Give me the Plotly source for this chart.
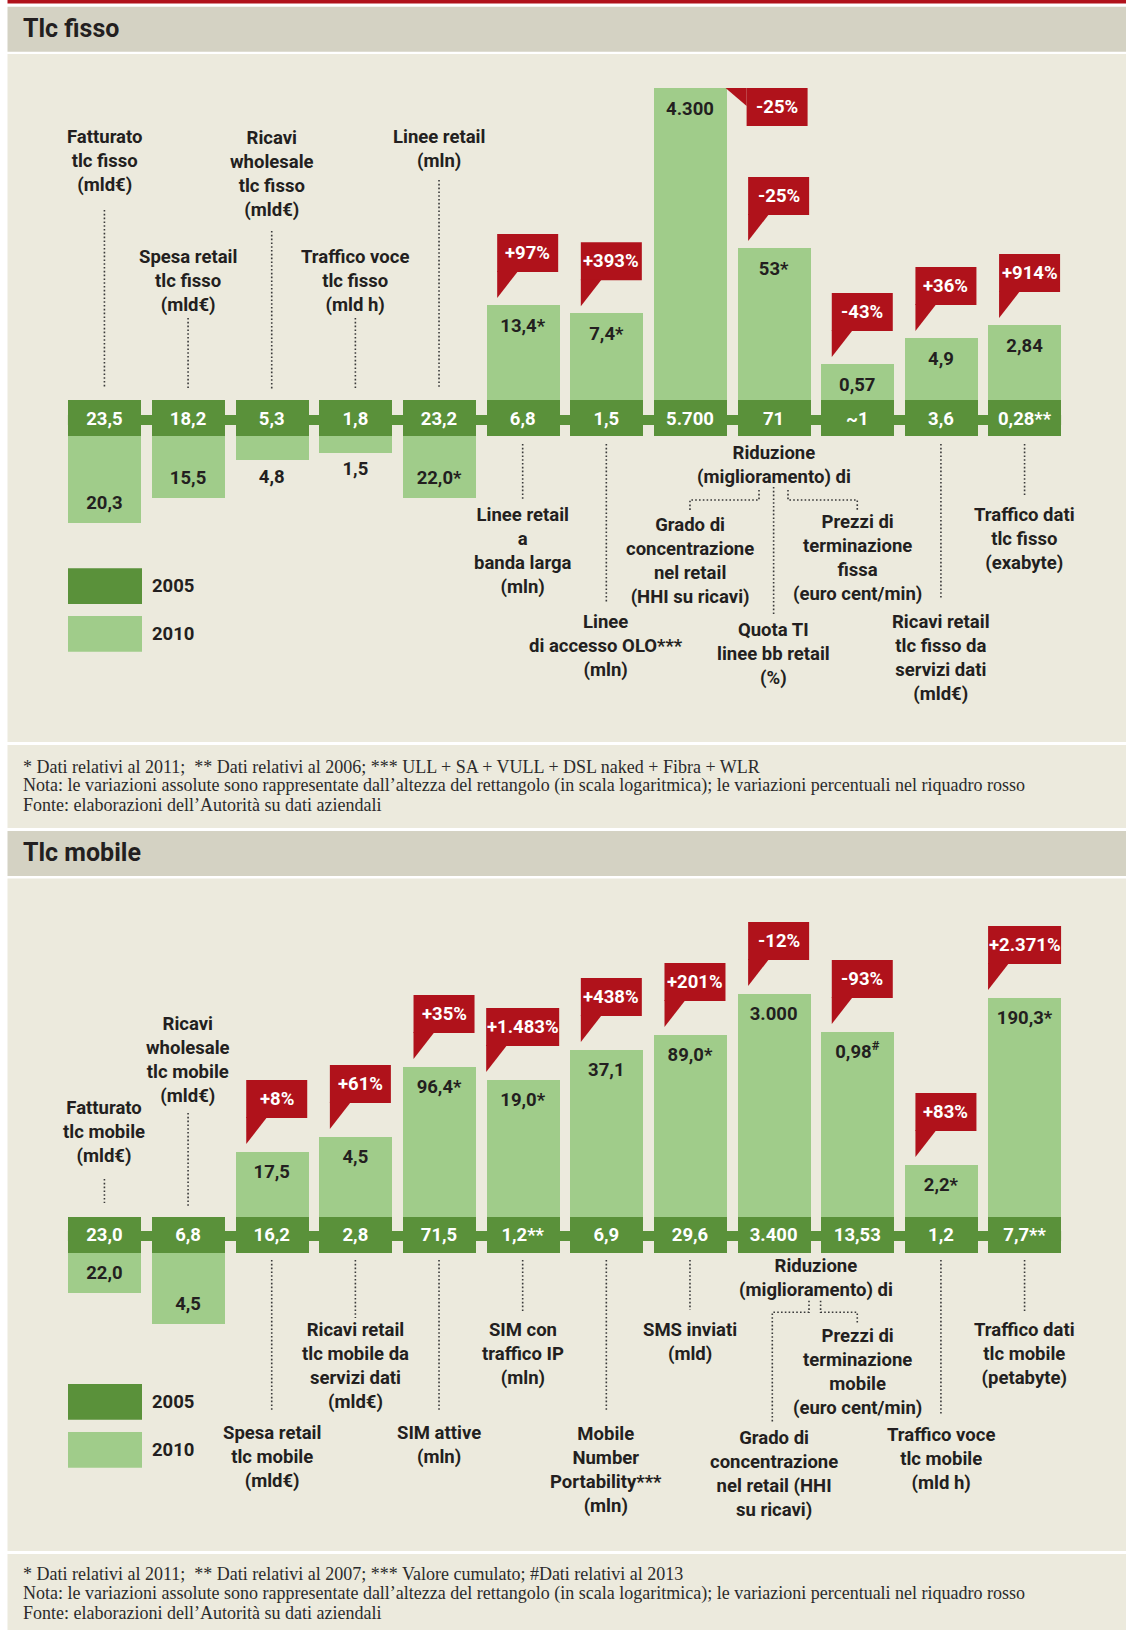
import plotly.graph_objects as go

# ------------------------------------------------------------------ DATA
# Tlc fisso
fisso_labels = [
    "Fatturato<br>tlc fisso<br>(mld€)",
    "Spesa retail<br>tlc fisso<br>(mld€)",
    "Ricavi<br>wholesale<br>tlc fisso<br>(mld€)",
    "Traffico voce<br>tlc fisso<br>(mld h)",
    "Linee retail<br>(mln)",
    "Linee retail<br>a<br>banda larga<br>(mln)",
    "Linee<br>di accesso OLO***<br>(mln)",
    "Grado di<br>concentrazione<br>nel retail<br>(HHI su ricavi)",
    "Quota TI<br>linee bb retail<br>(%)",
    "Prezzi di<br>terminazione<br>fissa<br>(euro cent/min)",
    "Ricavi retail<br>tlc fisso da<br>servizi dati<br>(mld€)",
    "Traffico dati<br>tlc fisso<br>(exabyte)",
]
fisso_2005 = ["23,5", "18,2", "5,3", "1,8", "23,2", "6,8", "1,5", "5.700", "71", "~1", "3,6", "0,28**"]
fisso_2010 = ["20,3", "15,5", "4,8", "1,5", "22,0*", "13,4*", "7,4*", "4.300", "53*", "0,57", "4,9", "2,84"]
fisso_pct = ["", "", "", "", "", "+97%", "+393%", "-25%", "-25%", "-43%", "+36%", "+914%"]
# height of the rectangle (log scale of the absolute variation)
fisso_var_height = [-86.7, -61.7, -24, -16.7, -61.7, 95, 86.7, 312, 152, 36, 62, 75]

# Tlc mobile
mobile_labels = [
    "Fatturato<br>tlc mobile<br>(mld€)",
    "Ricavi<br>wholesale<br>tlc mobile<br>(mld€)",
    "Spesa retail<br>tlc mobile<br>(mld€)",
    "Ricavi retail<br>tlc mobile da<br>servizi dati<br>(mld€)",
    "SIM attive<br>(mln)",
    "SIM con<br>traffico IP<br>(mln)",
    "Mobile<br>Number<br>Portability***<br>(mln)",
    "SMS inviati<br>(mld)",
    "Grado di<br>concentrazione<br>nel retail (HHI<br>su ricavi)",
    "Prezzi di<br>terminazione<br>mobile<br>(euro cent/min)",
    "Traffico voce<br>tlc mobile<br>(mld h)",
    "Traffico dati<br>tlc mobile<br>(petabyte)",
]
mobile_2005 = ["23,0", "6,8", "16,2", "2,8", "71,5", "1,2**", "6,9", "29,6", "3.400", "13,53", "1,2", "7,7**"]
mobile_2010 = ["22,0", "4,5", "17,5", "4,5", "96,4*", "19,0*", "37,1", "89,0*", "3.000", "0,98<sup>#</sup>", "2,2*", "190,3*"]
mobile_pct = ["", "", "+8%", "+61%", "+35%", "+1.483%", "+438%", "+201%", "-12%", "-93%", "+83%", "+2.371%"]
mobile_var_height = [-40, -71.6, 65, 80, 150, 137, 167, 182, 223, 185, 52, 219]

legend_years = ["2005", "2010"]

fisso_notes = [
    "* Dati relativi al 2011;\u00a0 ** Dati relativi al 2006; *** ULL + SA + VULL + DSL naked + Fibra + WLR",
    "Nota: le variazioni assolute sono rappresentate dall’altezza del rettangolo (in scala logaritmica); le variazioni percentuali nel riquadro rosso",
    "Fonte: elaborazioni dell’Autorità su dati aziendali",
]
mobile_notes = [
    "* Dati relativi al 2011;\u00a0 ** Dati relativi al 2007; *** Valore cumulato; #Dati relativi al 2013",
    "Nota: le variazioni assolute sono rappresentate dall’altezza del rettangolo (in scala logaritmica); le variazioni percentuali nel riquadro rosso",
    "Fonte: elaborazioni dell’Autorità su dati aziendali",
]

# ------------------------------------------------------------------ STYLE / LAYOUT
W, H = 1126, 1630
FONT = "Roboto, Liberation Sans Narrow, DejaVu Sans Condensed, sans-serif"
SERIF = "Liberation Serif, DejaVu Serif, serif"
FS = 18.5
RED = "#B0121B"
DARK = "#5A913A"
LIGHT = "#A0CC8A"
PANEL = "#ECEADD"
TITLEBG = "#D4D2C3"
TXT = "#231F20"
DOT = "#3A3A3A"

X0 = 62.6
PITCH = 83.65
NCOL = 12
BARW = 73 / PITCH
HALF = 18  # half height of the 2005 band


def col_px(i):
    return X0 + (i + 0.5) * PITCH


def px(x):
    return x / W


def py(y):
    return 1 - y / H


fig = go.Figure()
shapes = []
annotations = []


def rect(x0, y0, x1, y1, color, layer="below"):
    shapes.append(dict(type="rect", xref="paper", yref="paper",
                       x0=px(x0), x1=px(x1), y0=py(y0), y1=py(y1),
                       fillcolor=color, line=dict(width=0), layer=layer))


def text(x, y, s, size=FS, color=TXT, xanchor="center", family=FONT, weight="bold"):
    annotations.append(dict(x=px(x), y=py(y), xref="paper", yref="paper", text=s,
                            showarrow=False, xanchor=xanchor, yanchor="middle",
                            align="center" if xanchor == "center" else "left",
                            borderpad=0,
                            font=dict(family=family, size=size, color=color, weight=weight)))


def dotted(points):
    path = "M " + " L ".join(f"{px(x)},{py(y)}" for x, y in points)
    shapes.append(dict(type="path", xref="paper", yref="paper", path=path,
                       line=dict(color=DOT, width=1.6, dash="1.6px,2.2px")))


# backgrounds
rect(7.5, 0, W, 3.5, RED)
rect(7.5, 6.7, W, 51.7, TITLEBG)
rect(7.5, 54, W, 742, PANEL)
rect(7.5, 745, W, 828, PANEL)
rect(7.5, 831, W, 876, TITLEBG)
rect(7.5, 878.5, W, 1551, PANEL)
rect(7.5, 1554, W, H, PANEL)

text(22, 28, "Tlc fisso", size=25, xanchor="left")
text(22, 852, "Tlc mobile", size=25, xanchor="left")

for i, s in enumerate(fisso_notes):
    text(22, [766.7, 785.9, 805][i], s, size=18, color="#2b2b2b", xanchor="left", family=SERIF, weight="normal")
for i, s in enumerate(mobile_notes):
    text(22, [1574, 1593.5, 1612.7][i], s, size=18, color="#2b2b2b", xanchor="left", family=SERIF, weight="normal")


def add_panel(n, bc, top, bottom, v05, v10, pct, heights, labels, label_y, special_right, legend_y):
    xa = "x" if n == 1 else f"x{n}"
    ya = "y" if n == 1 else f"y{n}"
    idx = list(range(NCOL))
    fig.update_layout(**{
        ("xaxis" if n == 1 else f"xaxis{n}"): dict(domain=[px(X0), px(X0 + NCOL * PITCH)], range=[-0.5, NCOL - 0.5],
                                                   visible=False, fixedrange=True, anchor=ya),
        ("yaxis" if n == 1 else f"yaxis{n}"): dict(domain=[py(bottom), py(top)], range=[bc - bottom, bc - top],
                                                   visible=False, fixedrange=True, anchor=xa),
    })
    # connector strip
    fig.add_trace(go.Scatter(x=[-BARW / 2, NCOL - 1 + BARW / 2], y=[-2, -2], mode="lines",
                             line=dict(color=DARK, width=10), xaxis=xa, yaxis=ya,
                             hoverinfo="skip", showlegend=False))
    # 2010 rectangles
    fig.add_trace(go.Bar(x=idx, y=heights, base=[HALF if h > 0 else -HALF for h in heights], width=BARW,
                         marker=dict(color=LIGHT, line=dict(width=0)), xaxis=xa, yaxis=ya,
                         hoverinfo="skip", showlegend=False))
    # 2005 band
    fig.add_trace(go.Bar(x=idx, y=[2 * HALF] * NCOL, base=-HALF, width=BARW,
                         marker=dict(color=DARK, line=dict(width=0)), xaxis=xa, yaxis=ya,
                         hoverinfo="skip", showlegend=False))
    fig.add_trace(go.Scatter(x=idx, y=[-2] * NCOL, mode="text", text=v05,
                             textfont=dict(family=FONT, size=FS, color="white", weight="bold"),
                             xaxis=xa, yaxis=ya, hoverinfo="skip", showlegend=False))
    # 2010 values
    ylab = []
    for h in heights:
        if h > 0:
            ylab.append(HALF + h - 22)
        elif abs(h) >= 30:
            ylab.append(-HALF + h + 18)
        else:
            ylab.append(-HALF + h - 18)
    fig.add_trace(go.Scatter(x=idx, y=ylab, mode="text", text=v10,
                             textfont=dict(family=FONT, size=FS, color=TXT, weight="bold"),
                             xaxis=xa, yaxis=ya, hoverinfo="skip", showlegend=False))
    # red call-outs
    for i, (p, h) in enumerate(zip(pct, heights)):
        if not p:
            continue
        topu = HALF + h
        if i == special_right:
            bl, br = i + 0.677, i + 1.406
            bt, bb = topu, topu - 38
            tail = f"M {i + 0.4256},{topu} L {bl},{topu} L {bl},{topu - 18} Z"
        else:
            if len(p) > 5:
                bl, br = i - BARW / 2, i + BARW / 2
            else:
                bl, br = i - 25.5 / PITCH, i + 35.5 / PITCH
            bb = topu + 33
            bt = bb + 38
            tail = f"M {bl},{bb + 1} L {bl + 21 / PITCH},{bb + 1} L {bl},{topu + 7} Z"
        shapes.append(dict(type="rect", xref=xa, yref=ya, x0=bl, x1=br, y0=bb, y1=bt,
                           fillcolor=RED, line=dict(width=0)))
        shapes.append(dict(type="path", xref=xa, yref=ya, path=tail, fillcolor=RED, line=dict(width=0)))
        annotations.append(dict(x=(bl + br) / 2, y=(bb + bt) / 2, xref=xa, yref=ya, text=p, showarrow=False,
                                xanchor="center", yanchor="middle", borderpad=0,
                                font=dict(family=FONT, size=FS, color="white", weight="bold")))
    # category labels
    for i, (lab, yy) in enumerate(zip(labels, label_y)):
        text(col_px(i), yy, lab)
    # legend
    for k, (yr, col) in enumerate(zip(legend_years, [DARK, LIGHT])):
        y0 = legend_y[k]
        rect(68, y0, 142, y0 + 35.7, col, layer="above")
        text(151, y0 + 18, yr, xanchor="left")


add_panel(1, 418, 54, 742, fisso_2005, fisso_2010, fisso_pct, fisso_var_height, fisso_labels,
          [161.5, 281, 174, 281, 149, 551.3, 646, 560.7, 653.8, 558.3, 658.3, 538.7], 7, [568.3, 616])
add_panel(2, 1234, 878.5, 1551, mobile_2005, mobile_2010, mobile_pct, mobile_var_height, mobile_labels,
          [1131.8, 1059.7, 1456.7, 1366.3, 1444.5, 1353.8, 1469.5, 1342, 1474.2, 1371.7, 1459.2, 1354.3],
          None, [1384, 1432])

# Riduzione (miglioramento) di
text(col_px(8), 465.3, "Riduzione<br>(miglioramento) di")
text(816.3, 1277.5, "Riduzione<br>(miglioramento) di")

# dotted leader lines
for i, a, b in [(0, 210, 388), (1, 318, 390), (2, 231, 390), (3, 318, 390), (4, 180, 388),
                (5, 444, 499), (6, 444, 603), (10, 444, 598), (11, 444, 495)]:
    dotted([(col_px(i), a), (col_px(i), b)])
dotted([(col_px(8), 487), (col_px(8), 615)])
dotted([(759, 490), (759, 500), (col_px(7), 500), (col_px(7), 510)])
dotted([(788, 490), (788, 500), (col_px(9), 500), (col_px(9), 510)])

for i, a, b in [(0, 1179, 1203), (1, 1113, 1207), (2, 1260, 1410), (3, 1260, 1318), (4, 1260, 1410),
                (5, 1260, 1313), (6, 1260, 1410), (7, 1260, 1310), (10, 1260, 1414), (11, 1260, 1311)]:
    dotted([(col_px(i), a), (col_px(i), b)])
dotted([(809, 1300.7), (809, 1312.3), (772.3, 1312.3), (772.3, 1421.7)])
dotted([(820.6, 1300.7), (820.6, 1312.3), (col_px(9), 1312.3), (col_px(9), 1323.3)])

fig.update_layout(width=W, height=H, margin=dict(l=0, r=0, t=0, b=0),
                  paper_bgcolor="white", plot_bgcolor="rgba(0,0,0,0)",
                  barmode="overlay", showlegend=False, bargap=0,
                  shapes=shapes, annotations=annotations)

fig.write_html("out.html", config={"displayModeBar": False},
               post_script="document.body.style.margin='0';document.body.style.overflow='hidden';")
